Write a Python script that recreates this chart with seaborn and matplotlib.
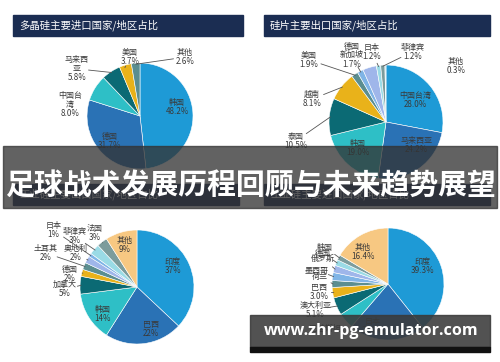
import numpy as np
import matplotlib.pyplot as plt
import seaborn as sns
from matplotlib.patches import Rectangle

W, H = 500, 362

# 多晶硅主要进口国家/地区占比
a_names = ['韩国', '德国', '中国台\n湾', '马来西\n亚', '美国', '其他']
a_vals = [48.2, 31.7, 8.0, 5.8, 3.7, 2.6]

# 硅片主要出口国家/地区占比
b_names = ['中国台湾', '马来西亚', '韩国', '泰国', '越南', '美国', '德国\n', '新加坡', '日本', '菲律宾', '其他']
b_vals = [28.0, 24.2, 19.0, 10.5, 8.1, 1.9, 1.7, 3.9, 1.2, 1.2, 0.3]
b_pct = [1, 1, 1, 1, 1, 1, 1, 0, 1, 1, 1]

# 下左
c_names = ['印度', '巴西', '韩国', '加拿大', '德国', '土耳其', '奥地利', '日本', '菲律宾', '法国', '其他']
c_vals = [37, 22, 14, 5, 2, 2, 2, 1, 3, 3, 9]

# 下右
d_names = ['印度', '日本', '巴基斯坦', '澳大利亚', '巴西', '荷兰', '墨西哥', '俄罗斯', '德国', '韩国', '其他']
d_vals = [39.3, 22.0, 4.6, 5.1, 3.0, 2.0, 2.3, 2.1, 1.7, 1.5, 16.4]
d_pct = [1, 1, 0, 1, 1, 0, 0, 0, 0, 0, 1]

titles = ['多晶硅主要进口国家/地区占比', '硅片主要出口国家/地区占比',
          '工业硅主要出口国家/地区占比', '工业硅主要进口国家/地区占比']

sns.set_theme(style='white')
plt.rcParams['font.family'] = ['Noto Sans CJK SC', 'DejaVu Sans']

pal = sns.color_palette(['#1e9ad6', '#2a72b5', '#2ebfc6', '#0b6a74', '#e9b21a',
                         '#5b8e90', '#9fb6ea', '#7fb4e6', '#9adbe6', '#7c9c9c', '#f7c882'])
b_cols = pal[:5] + [pal[5], pal[7], pal[6], pal[8], pal[9], '#b8dfe8']
d_cols = pal[:6] + [pal[7], pal[6], pal[8], pal[9], pal[10]]

fig = plt.figure(figsize=(5, 3.62), dpi=100)
ax = fig.add_axes([0, 0, 1, 1])


def draw_pie(vals, names, cols, cx, cy, r, pos, lines, fmt, show=None):
    wedges, _ = ax.pie(vals, colors=cols, center=(cx, H - cy), radius=r,
                       startangle=90, counterclock=False,
                       wedgeprops=dict(edgecolor='white', linewidth=0.4))
    for i, w in enumerate(wedges):
        ang = np.deg2rad((w.theta1 + w.theta2) / 2)
        lx, ly = cx + pos[i][0] * r, H - cy + pos[i][1] * r
        txt = names[i]
        if show is None or show[i]:
            txt += '\n' + fmt.format(vals[i])
        ax.text(lx, ly, txt, ha='center', va='center', fontsize=5.8,
                color='#3a3a3a', linespacing=1.0, zorder=3)
        if lines[i]:
            ex, ey = cx + np.cos(ang) * r * 0.98, H - cy + np.sin(ang) * r * 0.98
            d = np.hypot(ex - lx, ey - ly)
            sx, sy = lx + (ex - lx) / d * 0.22 * r, ly + (ey - ly) / d * 0.22 * r
            ax.plot([sx, ex], [sy, ey], color='#555555', lw=0.6, zorder=3)


draw_pie(a_vals, a_names, pal[:6], 140, 116, 53,
         [(0.70, 0.17), (-0.57, -0.47), (-1.32, 0.21), (-1.19, 0.89), (-0.19, 1.11), (0.85, 1.11)],
         [0, 0, 0, 1, 1, 1], '{:.1f}%')
draw_pie(b_vals, b_names, b_cols, 386, 122, 57,
         [(0.51, 0.39), (0.53, -0.40), (-0.49, -0.46), (-1.58, -0.33), (-1.30, 0.40),
          (-1.35, 1.09), (-0.60, 1.16), (-0.60, 1.18), (-0.25, 1.23), (0.46, 1.23), (1.23, 0.98)],
         [0, 0, 0, 1, 1, 1, 1, 0, 1, 1, 0], '{:.1f}%', b_pct)
draw_pie(c_vals, c_names, pal, 137, 287, 57,
         [(0.63, 0.37), (0.25, -0.74), (-0.60, -0.47), (-1.26, -0.04), (-1.18, 0.23), (-1.61, 0.60),
          (-1.07, 0.60), (-1.47, 1.00), (-1.09, 0.89), (-0.74, 0.95), (-0.21, 0.74)],
         [0, 0, 0, 1, 1, 1, 1, 1, 1, 1, 0], '{:.0f}%')
draw_pie(d_vals, d_names, d_cols, 388, 284, 56,
         [(0.61, 0.32), (-0.27, -0.75), (-1.12, -0.80), (-1.30, -0.46), (-1.23, -0.14), (-1.21, 0.13),
          (-1.27, 0.25), (-1.16, 0.45), (-1.16, 0.55), (-1.13, 0.66), (-0.45, 0.57)],
         [0, 0, 0, 1, 1, 1, 1, 1, 1, 1, 0], '{:.1f}%', d_pct)

# 标题栏
bars = [(13, 15, 230, 21), (264, 15, 226, 21), (13, 184, 226, 21), (264, 184, 226, 21)]
for (x, y, w, h), t in zip(bars, titles):
    ax.add_patch(Rectangle((x, H - y - h), w, h, color='#1b2d52', zorder=2))
    ax.text(x + 6, H - y - h / 2, t, color='white', fontsize=7.5, va='center', zorder=2)

# 横幅
ax.add_patch(Rectangle((3, H - 208), 494, 62, color='#333333', alpha=0.77, zorder=10))
ax.text(250, H - 185, '足球战术发展历程回顾与未来趋势展望', color='white', fontsize=20.8,
        fontweight='bold', ha='center', va='center', zorder=11)

# 水印
ax.add_patch(Rectangle((250, H - 347), 240, 32, color='#3a3a3a', alpha=0.88, zorder=10))
ax.add_patch(Rectangle((250, H - 352), 240, 5, color='#111111', zorder=10))
ax.text(371, H - 331, 'www.zhr-pg-emulator.com', color='white', fontsize=11.6,
        fontweight='bold', ha='center', va='center', zorder=11,
        family=['Open Sans', 'DejaVu Sans'])

ax.set_xlim(0, W)
ax.set_ylim(0, H)
ax.set_aspect('auto')
ax.axis('off')

fig.savefig('out.png', dpi=100)
